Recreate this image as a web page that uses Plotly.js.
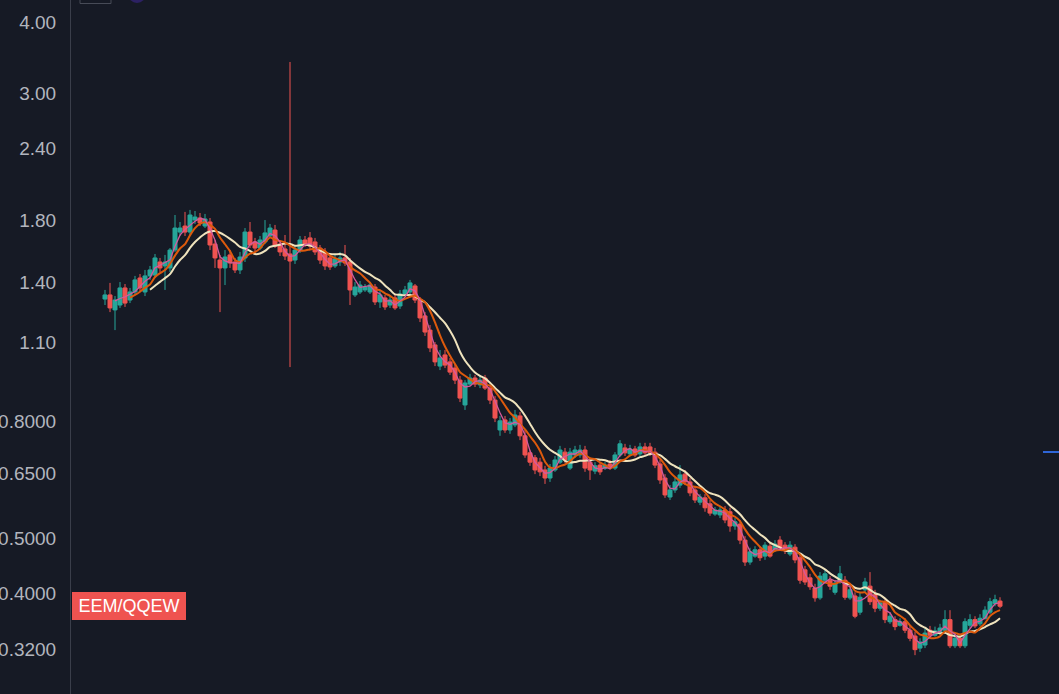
<!DOCTYPE html>
<html>
<head>
<meta charset="utf-8">
<script src="https://cdn.plot.ly/plotly-3.0.1.min.js"></script>
<style>
html,body{margin:0;padding:0;background:#161a25;overflow:hidden;}
#chart{width:1059px;height:694px;}
</style>
</head>
<body>
<div id="chart"></div>
<script>
// ---- data (EEM/QQEW ratio) ----
const symbol = "EEM/QQEW";

const open = [
1.310,1.332,1.254,1.279,1.370,1.305,1.348,1.426,1.348,1.438,
1.443,1.521,1.497,1.485,1.596,1.716,1.758,1.716,1.801,1.816,
1.758,1.787,1.635,1.533,1.485,1.565,1.521,1.473,1.546,1.716,
1.649,1.609,1.649,1.689,1.730,1.635,1.603,1.571,1.533,1.596,
1.662,1.676,1.649,1.609,1.577,1.546,1.497,1.521,1.546,1.521,
1.332,1.348,1.359,1.348,1.375,1.295,1.316,1.279,1.316,1.274,
1.337,1.348,1.381,1.305,1.224,1.156,1.089,1.000,1.046,1.017,
0.992,0.945,0.855,0.930,0.953,0.927,0.953,0.915,0.872,0.773,
0.805,0.773,0.789,0.818,0.755,0.705,0.691,0.679,0.658,0.637,
0.658,0.679,0.707,0.663,0.699,0.699,0.713,0.679,0.655,0.671,
0.663,0.674,0.663,0.699,0.719,0.702,0.716,0.702,0.722,0.722,
0.707,0.674,0.637,0.590,0.607,0.619,0.647,0.627,0.607,0.578,
0.588,0.574,0.551,0.549,0.560,0.556,0.525,0.529,0.496,0.454,
0.465,0.477,0.465,0.484,0.477,0.496,0.486,0.469,0.482,0.462,
0.440,0.426,0.409,0.393,0.422,0.422,0.402,0.419,0.422,0.393,
0.396,0.371,0.406,0.412,0.398,0.377,0.387,0.357,0.360,0.352,
0.357,0.345,0.337,0.321,0.325,0.345,0.338,0.343,0.345,0.360,
0.324,0.334,0.324,0.352,0.360,0.354,0.362,0.371,0.384,0.388
];

const high = [
1.359,1.398,1.326,1.403,1.392,1.370,1.438,1.449,1.473,1.497,
1.571,1.546,1.565,1.609,1.838,1.787,1.861,1.876,1.868,1.853,
1.846,1.816,1.662,1.565,1.596,1.596,1.546,1.584,1.744,1.787,
1.676,1.689,1.801,1.773,1.766,1.662,1.696,3.405,1.622,1.689,
1.689,1.716,1.676,1.629,1.609,1.571,1.565,1.584,1.629,1.546,
1.403,1.409,1.392,1.403,1.392,1.359,1.332,1.326,1.332,1.359,
1.381,1.415,1.392,1.321,1.243,1.180,1.102,1.067,1.067,1.033,
1.008,0.961,0.945,0.969,0.965,0.961,0.965,0.927,0.886,0.818,
0.818,0.811,0.838,0.831,0.773,0.713,0.699,0.691,0.669,0.674,
0.696,0.725,0.719,0.719,0.725,0.728,0.725,0.691,0.679,0.679,
0.679,0.685,0.707,0.742,0.731,0.728,0.725,0.734,0.734,0.734,
0.719,0.685,0.647,0.619,0.637,0.671,0.658,0.637,0.617,0.597,
0.597,0.583,0.567,0.569,0.569,0.565,0.542,0.538,0.504,0.481,
0.484,0.484,0.492,0.492,0.496,0.504,0.492,0.494,0.488,0.467,
0.447,0.433,0.416,0.436,0.440,0.429,0.422,0.447,0.429,0.412,
0.402,0.401,0.426,0.436,0.406,0.390,0.393,0.371,0.365,0.362,
0.362,0.351,0.343,0.334,0.348,0.351,0.350,0.354,0.374,0.374,
0.340,0.340,0.362,0.368,0.365,0.368,0.380,0.393,0.398,0.394
];

const low = [
1.279,1.243,1.156,1.264,1.269,1.289,1.337,1.348,1.326,1.415,
1.426,1.461,1.359,1.461,1.584,1.689,1.689,1.696,1.773,1.758,
1.744,1.596,1.485,1.243,1.386,1.485,1.455,1.449,1.521,1.609,
1.584,1.596,1.635,1.676,1.609,1.558,1.533,0.996,1.509,1.577,
1.616,1.596,1.565,1.509,1.473,1.473,1.485,1.497,1.497,1.279,
1.321,1.337,1.348,1.337,1.279,1.264,1.254,1.264,1.254,1.259,
1.326,1.337,1.289,1.194,1.129,1.058,1.000,0.984,0.992,0.965,
0.930,0.865,0.838,0.923,0.919,0.915,0.908,0.858,0.798,0.755,
0.764,0.761,0.782,0.742,0.691,0.669,0.647,0.642,0.622,0.627,
0.653,0.674,0.677,0.658,0.691,0.691,0.653,0.632,0.647,0.645,
0.658,0.658,0.658,0.693,0.696,0.696,0.693,0.696,0.699,0.696,
0.663,0.622,0.588,0.583,0.600,0.612,0.619,0.592,0.576,0.571,
0.556,0.547,0.547,0.542,0.531,0.513,0.517,0.488,0.447,0.449,
0.462,0.456,0.458,0.462,0.473,0.477,0.469,0.465,0.452,0.416,
0.414,0.406,0.387,0.390,0.419,0.406,0.398,0.416,0.390,0.390,
0.362,0.367,0.401,0.382,0.371,0.373,0.355,0.354,0.345,0.350,
0.341,0.330,0.312,0.316,0.321,0.336,0.336,0.340,0.343,0.321,
0.321,0.321,0.321,0.348,0.348,0.351,0.360,0.368,0.380,0.377
];

const close = [
1.332,1.264,1.305,1.370,1.289,1.348,1.415,1.370,1.438,1.473,
1.546,1.485,1.521,1.596,1.744,1.744,1.716,1.838,1.823,1.780,
1.809,1.629,1.546,1.485,1.552,1.515,1.473,1.552,1.716,1.629,
1.609,1.662,1.710,1.744,1.622,1.584,1.558,1.527,1.596,1.662,
1.635,1.622,1.584,1.533,1.497,1.491,1.540,1.546,1.515,1.359,
1.375,1.386,1.375,1.386,1.295,1.332,1.269,1.305,1.264,1.337,
1.359,1.398,1.305,1.214,1.147,1.076,1.017,1.033,1.004,0.976,
0.945,0.879,0.934,0.953,0.930,0.945,0.915,0.872,0.811,0.802,
0.773,0.798,0.821,0.755,0.699,0.679,0.658,0.653,0.637,0.663,
0.685,0.713,0.685,0.707,0.713,0.713,0.663,0.658,0.669,0.653,
0.671,0.663,0.699,0.731,0.705,0.716,0.699,0.722,0.705,0.705,
0.671,0.632,0.595,0.607,0.627,0.645,0.627,0.600,0.583,0.590,
0.565,0.553,0.560,0.560,0.538,0.525,0.534,0.496,0.454,0.473,
0.477,0.462,0.486,0.465,0.488,0.481,0.475,0.486,0.458,0.422,
0.419,0.411,0.393,0.429,0.433,0.412,0.417,0.433,0.394,0.406,
0.365,0.394,0.419,0.387,0.377,0.385,0.360,0.365,0.350,0.357,
0.345,0.334,0.319,0.329,0.341,0.338,0.344,0.348,0.360,0.324,
0.334,0.324,0.357,0.360,0.351,0.362,0.374,0.387,0.390,0.380
];

const tickValues = [4.00, 3.00, 2.40, 1.80, 1.40, 1.10, 0.80, 0.65, 0.50, 0.40, 0.32];
const tickLabels = ["4.00","3.00","2.40","1.80","1.40","1.10","0.8000","0.6500","0.5000","0.4000","0.3200"];

// moving-average periods drawn over the candles
const maFast = 3, maMid = 6, maSlow = 10;

// ---- helpers ----
const bars = close.map((_, i) => i);
function sma(values, n) {
  return values.map((v, i) => {
    if (i < n - 1) return null;
    let s = 0;
    for (let k = i - n + 1; k <= i; k++) s += values[k];
    return s / n;
  });
}

const UP = '#26a69a', DOWN = '#ef5350', BG = '#161a25';

const traces = [
  {
    type: 'candlestick', x: bars, open: open, high: high, low: low, close: close,
    increasing: { line: { color: UP, width: 1 }, fillcolor: UP },
    decreasing: { line: { color: DOWN, width: 1 }, fillcolor: DOWN },
    whiskerwidth: 0, hoverinfo: 'skip', showlegend: false
  },
  { type: 'scatter', mode: 'lines', x: bars, y: sma(close, maSlow),
    line: { color: '#efe3bd', width: 2, shape: 'spline', smoothing: 0.8 }, hoverinfo: 'skip', showlegend: false },
  { type: 'scatter', mode: 'lines', x: bars, y: sma(close, maMid),
    line: { color: '#dd5a0c', width: 2, shape: 'spline', smoothing: 0.6 }, hoverinfo: 'skip', showlegend: false },
  { type: 'scatter', mode: 'lines', x: bars, y: sma(close, maFast),
    line: { color: '#d35a9c', width: 1.3 }, hoverinfo: 'skip', showlegend: false }
];

const W = 1059, H = 694, ML = 71;
const px = v => (v - ML) / (W - ML);      // pixel x -> paper x
const py = v => 1 - v / H;                // pixel y -> paper y

const layout = {
  width: W, height: H,
  margin: { l: ML, r: 0, t: 0, b: 0, pad: 0 },
  paper_bgcolor: BG, plot_bgcolor: BG,
  showlegend: false, hovermode: false,
  boxgap: 0.2, boxgroupgap: 0,
  xaxis: {
    range: [-6.8, 190.8], showgrid: false, zeroline: false,
    showticklabels: false, ticks: '', showline: false,
    rangeslider: { visible: false }, fixedrange: true
  },
  yaxis: {
    type: 'log', range: [Math.log10(0.2668), Math.log10(4.371)],
    tickmode: 'array', tickvals: tickValues, ticktext: tickLabels,
    showgrid: false, zeroline: false, ticks: '',
    showline: true, linecolor: '#3a3e4a', linewidth: 1,
    ticklabelstandoff: 10,
    tickfont: { family: 'Liberation Sans, Arial, sans-serif', size: 19, color: '#b2b5be' },
    fixedrange: true
  },
  shapes: [
    { type: 'rect', xref: 'paper', yref: 'paper', x0: px(80), x1: px(111), y0: py(3.5), y1: py(-12),
      line: { color: '#474b57', width: 1 }, fillcolor: 'rgba(0,0,0,0)' },
    { type: 'circle', xref: 'paper', yref: 'paper', x0: px(128), x1: px(146), y0: py(3), y1: py(-15),
      line: { width: 0 }, fillcolor: '#2c2163' },
    { type: 'line', xref: 'paper', yref: 'paper', x0: px(1043), x1: 1, y0: py(452), y1: py(452),
      line: { color: '#2f66d8', width: 2 } }
  ],
  annotations: [
    { xref: 'paper', yref: 'y', x: px(72), xanchor: 'left',
      y: Math.log10(close[close.length - 1]), yanchor: 'middle',
      text: symbol, showarrow: false, bgcolor: DOWN, borderpad: 0, borderwidth: 0,
      width: 114, height: 28, align: 'center',
      font: { family: 'Liberation Sans, Arial, sans-serif', size: 18, color: '#ffffff' } }
  ]
};

Plotly.newPlot('chart', traces, layout, { displayModeBar: false, staticPlot: true });
</script>
</body>
</html>
